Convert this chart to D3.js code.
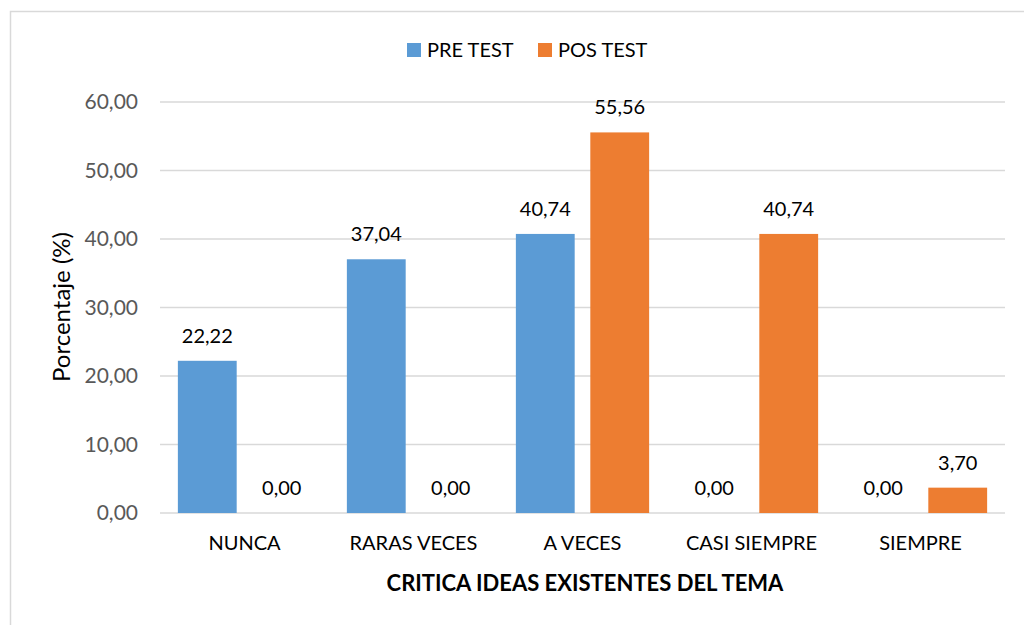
<!DOCTYPE html>
<html>
<head>
<meta charset="utf-8">
<script src="https://cdn.jsdelivr.net/npm/d3@7"></script>
<style>
  body { margin: 0; background: #fff; }
  text { font-family: Lato, "Open Sans", sans-serif; }
</style>
</head>
<body>
<svg id="chart" width="1024" height="625"></svg>
<script>
const categories = ["NUNCA", "RARAS VECES", "A VECES", "CASI SIEMPRE", "SIEMPRE"];
const series = ["PRE TEST", "POS TEST"];
const preTest = [22.22, 37.04, 40.74, 0.00, 0.00];
const posTest = [0.00, 0.00, 55.56, 40.74, 3.70];
const yTicks = [0, 10, 20, 30, 40, 50, 60];
const colors = ["#5b9bd5", "#ed7d31"];

const svg = d3.select("#chart");
const margin = { left: 160, right: 1005, top: 102, bottom: 513 };

// chart frame
svg.append("rect")
  .attr("x", 10.5).attr("y", 11.5)
  .attr("width", 1030).attr("height", 640)
  .attr("fill", "none").attr("stroke", "#d9d9d9").attr("stroke-width", 1.5);

const x = d3.scaleBand().domain(categories).range([margin.left, margin.right]);
const x1 = d3.scaleBand().domain(series).range([0, x.bandwidth()]).paddingInner(0.21).paddingOuter(0.24);
const y = d3.scaleLinear().domain([0, 60]).range([margin.bottom, margin.top]);

const fmt = v => d3.format(".2f")(v).replace(".", ",");

// gridlines
svg.append("g").selectAll("line").data(yTicks).join("line")
  .attr("x1", margin.left).attr("x2", margin.right)
  .attr("y1", d => y(d)).attr("y2", d => y(d))
  .attr("stroke", "#d9d9d9").attr("stroke-width", 1.5);

// y axis labels
const yAxis = svg.append("g").attr("transform", `translate(${margin.left},0)`)
  .call(d3.axisLeft(y).tickValues(yTicks).tickFormat(fmt).tickSize(0).tickPadding(22));
yAxis.select(".domain").remove();
yAxis.selectAll("text").attr("font-size", 21).attr("fill", "#595959").attr("font-family", "Lato");

// x axis labels
const xAxis = svg.append("g").attr("transform", `translate(0,${margin.bottom})`)
  .call(d3.axisBottom(x).tickSize(0).tickPadding(23));
xAxis.select(".domain").remove();
xAxis.selectAll("text").attr("font-size", 20).attr("fill", "#000").attr("font-family", "Lato");

// bars
const data = categories.map((c, i) => ({ cat: c, vals: [preTest[i], posTest[i]] }));
const groups = svg.append("g").selectAll("g").data(data).join("g")
  .attr("transform", d => `translate(${x(d.cat)},0)`);

groups.selectAll("rect").data(d => d.vals.map((v, j) => ({ s: series[j], v, j }))).join("rect")
  .attr("x", d => x1(d.s)).attr("width", x1.bandwidth())
  .attr("y", d => y(d.v)).attr("height", d => y(0) - y(d.v))
  .attr("fill", d => colors[d.j]);

groups.selectAll("text.val").data(d => d.vals.map((v, j) => ({ s: series[j], v, j }))).join("text")
  .attr("class", "val")
  .attr("x", d => x1(d.s) + x1.bandwidth() / 2)
  .attr("y", d => y(d.v) - 18)
  .attr("text-anchor", "middle").attr("font-size", 20).attr("fill", "#000")
  .text(d => fmt(d.v));

// axis titles
svg.append("text")
  .attr("x", 585).attr("y", 591)
  .attr("text-anchor", "middle").attr("font-size", 22).attr("font-weight", "bold")
  .text("CRITICA IDEAS EXISTENTES DEL TEMA");

svg.append("text")
  .attr("transform", "translate(70,307) rotate(-90)")
  .attr("text-anchor", "middle").attr("font-size", 24)
  .text("Porcentaje (%)");

// legend
const legend = svg.append("g");
const legendX = [407, 538];
series.forEach((s, i) => {
  legend.append("rect").attr("x", legendX[i]).attr("y", 43).attr("width", 14).attr("height", 14).attr("fill", colors[i]);
  legend.append("text").attr("x", legendX[i] + 20).attr("y", 57).attr("font-size", 20).text(s);
});
</script>
</body>
</html>
